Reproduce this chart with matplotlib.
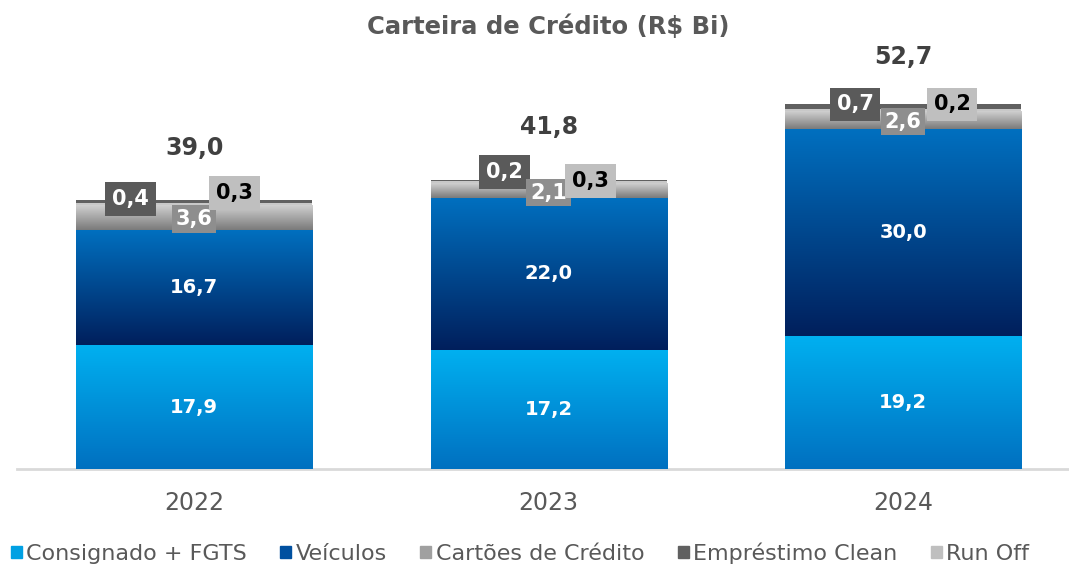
import matplotlib
matplotlib.use('Agg')
import numpy as np
import matplotlib.pyplot as plt
from matplotlib.colors import LinearSegmentedColormap
from matplotlib.patches import Patch

plt.rcParams['font.family'] = ['DejaVu Sans']

# Data (R$ bi)
years = ['2022', '2023', '2024']
consignado = [17.9, 17.2, 19.2]
veiculos = [16.7, 22.0, 30.0]
cartoes = [3.6, 2.1, 2.6]
emprestimo = [0.4, 0.2, 0.7]
run_off = [0.3, 0.3, 0.2]
totals = [39.0, 41.8, 52.7]

series_names = ['Consignado + FGTS', 'Veículos', 'Cartões de Crédito', 'Empréstimo Clean', 'Run Off']

# label placement tweaks (pixels), like the dragged labels of the original
emp_dx, emp_dy = [-64, -44, -48], [0, 8, 0]
run_dx, run_dy = [40, 42, 49], [6, -1, 0]
total_dy = [51, 53, 47]

GRAY_TXT = '#595959'

fig = plt.figure(figsize=(10.69, 5.67), dpi=100)
ax = fig.add_axes([17 / 1069, 98 / 567, 1 - 17 / 1069, (469 - 54) / 567])

x = np.arange(len(years))
w = 0.666


def grad_bars(bars, c_top, c_bot):
    cmap = LinearSegmentedColormap.from_list('g', [c_bot, c_top])
    grad = np.linspace(0, 1, 256).reshape(-1, 1)
    for b in bars:
        x0, y0 = b.get_x(), b.get_y()
        im = ax.imshow(grad, cmap=cmap, origin='lower', aspect='auto',
                       extent=[x0, x0 + b.get_width(), y0, y0 + b.get_height()],
                       interpolation='bicubic', zorder=2)
        im.set_clip_path(b)


def fmt(v):
    return f'{v:.1f}'.replace('.', ',')


bottom = np.zeros(3)
b1 = ax.bar(x, consignado, w, bottom=bottom, color='#00A0E3', zorder=1)
grad_bars(b1, '#00B0F0', '#0070C0')
bottom += consignado
b2 = ax.bar(x, veiculos, w, bottom=bottom, color='#0050A0', zorder=1)
grad_bars(b2, '#0070C0', '#001F5C')
bottom += veiculos
b3 = ax.bar(x, cartoes, w, bottom=bottom, color='#A0A0A0', zorder=1)
grad_bars(b3, '#D0D0D0', '#7A7A7A')
bottom += cartoes
b5 = ax.bar(x, run_off, w, bottom=bottom, color='#C8C8C8', zorder=2)
bottom += run_off
b4 = ax.bar(x, emprestimo, w, bottom=bottom, color='#606060', zorder=2)
bottom += emprestimo

ax.set_xlim(-0.5, 2.468)
ax.set_ylim(0, 60)

for i in range(3):
    # labels inside the big segments
    ax.text(x[i], consignado[i] / 2, fmt(consignado[i]),
            ha='center', va='center', color='white', fontsize=14, fontweight='bold', zorder=5)
    ax.text(x[i], consignado[i] + veiculos[i] / 2, fmt(veiculos[i]),
            ha='center', va='center', color='white', fontsize=14, fontweight='bold', zorder=5)

    top = totals[i]
    # Empréstimo Clean
    ax.annotate(fmt(emprestimo[i]), (x[i], top),
                xytext=(emp_dx[i], emp_dy[i]), textcoords='offset pixels',
                ha='center', va='center', color='white', fontsize=15, fontweight='bold',
                bbox=dict(boxstyle='square,pad=0.33', fc='#5A5A5A', ec='none'), zorder=6)
    # Cartões
    yc = consignado[i] + veiculos[i] + cartoes[i] / 2
    ax.annotate(fmt(cartoes[i]), (x[i], yc),
                xytext=(0, -2), textcoords='offset pixels',
                ha='center', va='center', color='white', fontsize=15, fontweight='bold',
                bbox=dict(boxstyle='square,pad=0.18', fc='#8E8E8E', ec='none'), zorder=7)
    # Run Off
    ax.annotate(fmt(run_off[i]), (x[i], top),
                xytext=(run_dx[i], run_dy[i]), textcoords='offset pixels',
                ha='center', va='center', color='black', fontsize=15, fontweight='bold',
                bbox=dict(boxstyle='square,pad=0.33', fc='#BFBFBF', ec='none'), zorder=8)
    # total
    ax.annotate(fmt(totals[i]), (x[i], top),
                xytext=(0, total_dy[i]), textcoords='offset pixels',
                ha='center', va='center', color='#404040', fontsize=17, fontweight='bold')

for s in ['top', 'right', 'left']:
    ax.spines[s].set_visible(False)
ax.spines['bottom'].set_color('#D9D9D9')
ax.spines['bottom'].set_linewidth(2)
ax.spines['bottom'].set_zorder(0)
ax.set_yticks([])
ax.set_xticks(x)
ax.set_xticklabels(years, fontsize=17, color=GRAY_TXT)
ax.tick_params(axis='x', length=0, pad=16)

fig.text(548 / 1069, 1 - 27 / 567, 'Carteira de Crédito (R$ Bi)', ha='center', va='center',
         fontsize=17.5, fontweight='bold', color=GRAY_TXT)

handles = [Patch(color=c) for c in ['#00A0E3', '#0050A0', '#A0A0A0', '#606060', '#BFBFBF']]
fig.legend(handles, series_names, loc='center', bbox_to_anchor=(520 / 1069, 1 - 553 / 567),
           ncol=5, frameon=False, fontsize=16, labelcolor=GRAY_TXT,
           handlelength=0.5, handleheight=0.5, handletextpad=0.2, columnspacing=1.5)

plt.savefig('out.png', dpi=100)
plt.close(fig)
